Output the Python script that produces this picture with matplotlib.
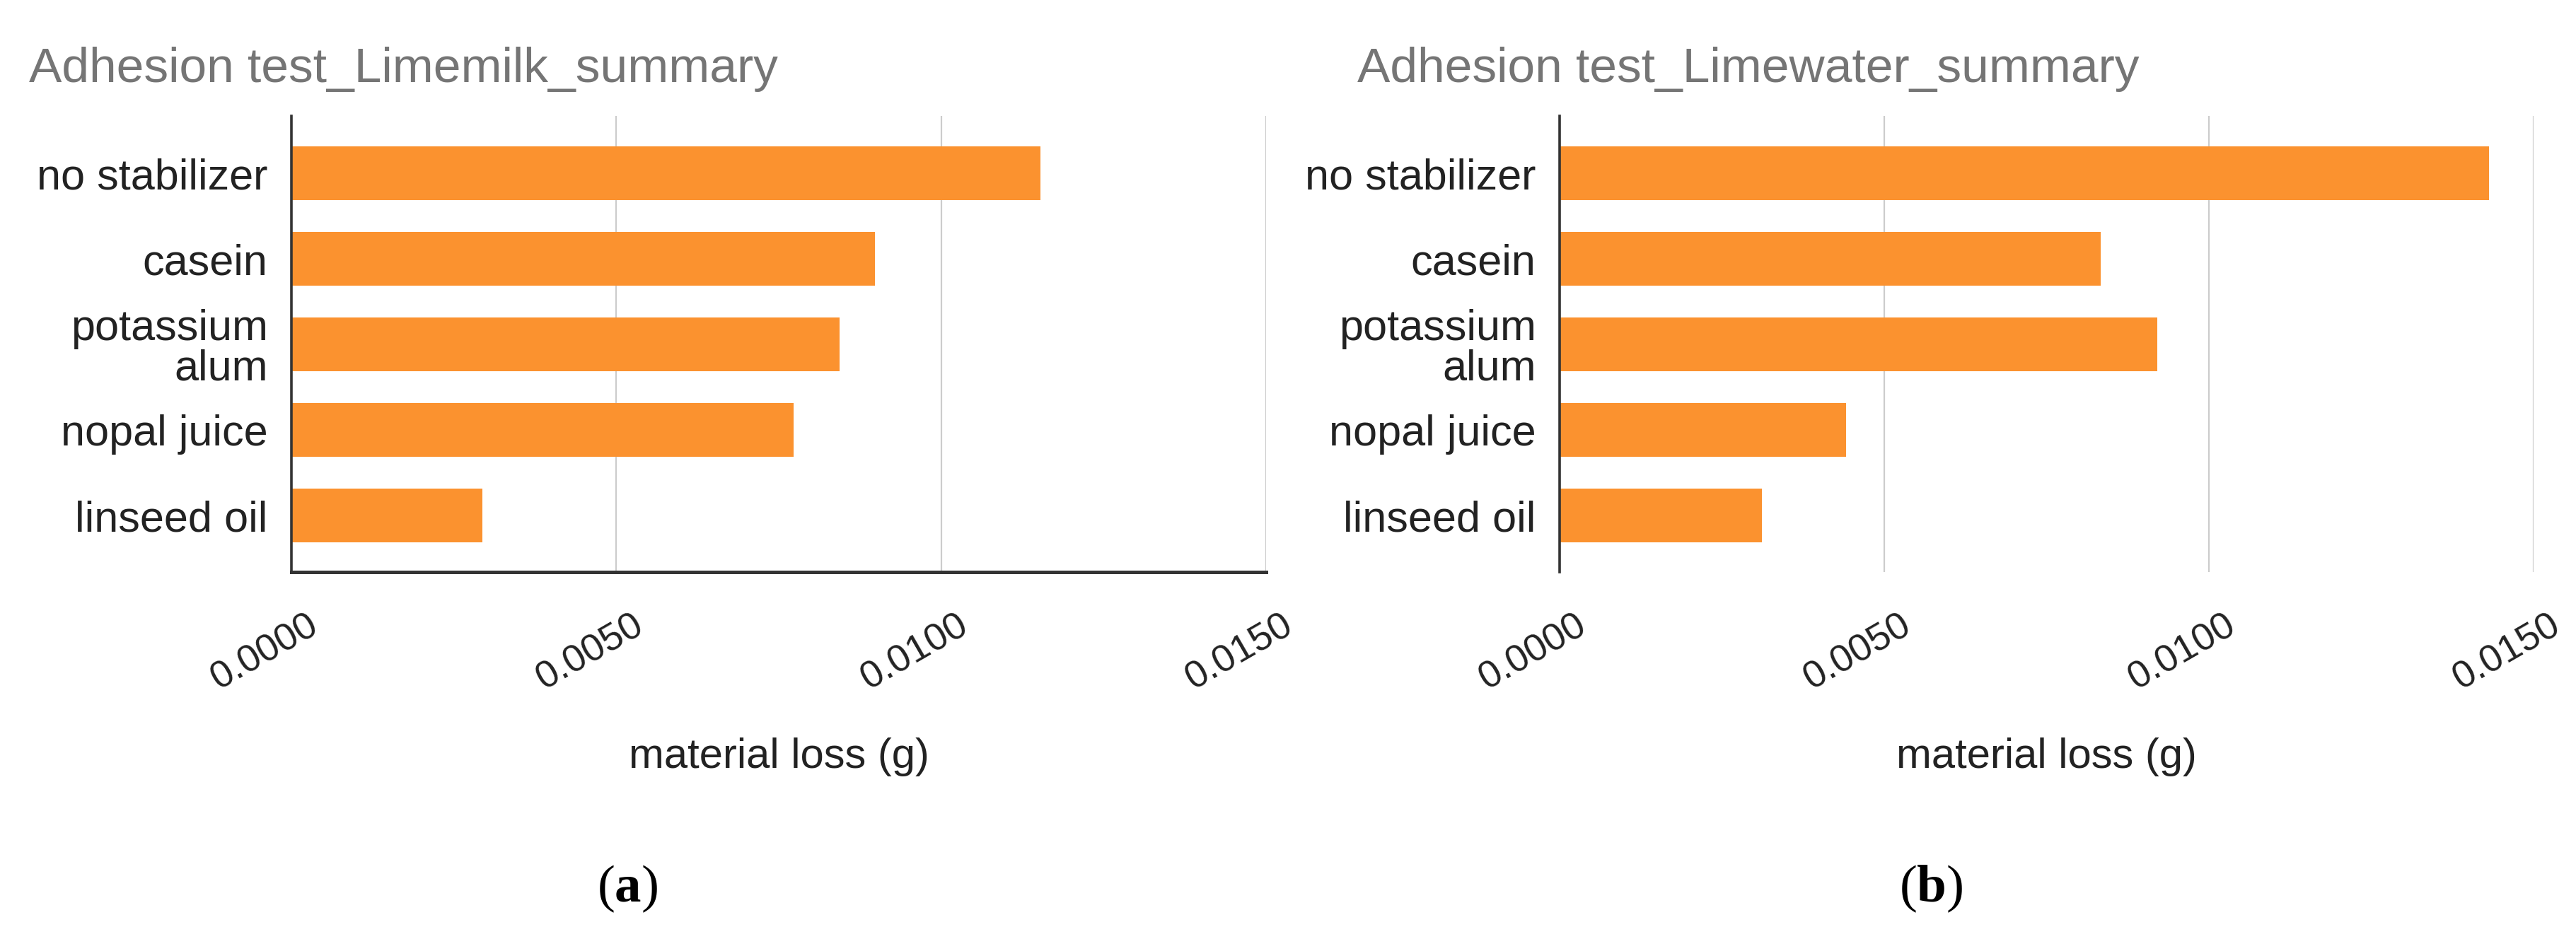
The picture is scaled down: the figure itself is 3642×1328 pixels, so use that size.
import matplotlib
matplotlib.use("Agg")
import matplotlib.pyplot as plt
import matplotlib.transforms as mtransforms
import numpy as np

plt.rcParams['font.family'] = ['Liberation Sans', 'DejaVu Sans']
plt.rcParams['mathtext.fontset'] = 'custom'
plt.rcParams['mathtext.rm'] = 'Liberation Serif'
plt.rcParams['mathtext.bf'] = 'Liberation Serif:bold'

categories = ["no stabilizer", "casein", "potassium\nalum", "nopal juice", "linseed oil"]
limemilk = [0.01153, 0.00898, 0.00844, 0.00773, 0.00294]
limewater = [0.01431, 0.00833, 0.00921, 0.00441, 0.00312]
xticks = [0.0, 0.005, 0.010, 0.015]
xtick_labels = ["0.0000", "0.0050", "0.0100", "0.0150"]
titles = ["Adhesion test_Limemilk_summary", "Adhesion test_Limewater_summary"]
panel_tags = ["a", "b"]

W, H = 3642, 1328
DPI = 100
BAR = '#FB922F'
GRID = '#cccccc'
DARK = '#222222'

fig = plt.figure(figsize=(W / DPI, H / DPI), dpi=DPI)

# pixel boxes of the two plot areas: (left, right, top, bottom)
boxes = [(412, 1790, 164, 809), (2205, 3582, 164, 809)]
title_x = [41, 1919]
tag_x = [887, 2730]

for i, vals in enumerate([limemilk, limewater]):
    l, r, t, b = boxes[i]
    ax = fig.add_axes([l / W, (H - b) / H, (r - l) / W, (b - t) / H])
    y = np.arange(len(categories))
    ax.barh(y, vals, height=0.63, color=BAR, zorder=3)
    ax.set_xlim(0, 0.015)
    ax.set_ylim(len(categories) - 0.34, -0.67)

    ax.set_yticks(y)
    ax.set_yticklabels(categories, fontsize=44, color=DARK, linespacing=1.0)
    ax.set_xticks(xticks)
    ax.set_xticklabels(xtick_labels, fontsize=39, color=DARK)
    ax.tick_params(axis='y', length=0, pad=24)
    ax.tick_params(axis='x', length=0, pad=36)
    shift = mtransforms.ScaledTranslation(22 / DPI, 0, fig.dpi_scale_trans)
    for lab in ax.get_xticklabels():
        lab.set_rotation(30)
        lab.set_ha('right')
        lab.set_va('top')
        lab.set_rotation_mode('anchor')
        lab.set_transform(lab.get_transform() + shift)

    ax.grid(axis='x', color=GRID, linewidth=1.6, zorder=0)
    for s in ['top', 'right']:
        ax.spines[s].set_visible(False)
    ax.spines['left'].set_color('#333333')
    ax.spines['left'].set_linewidth(2.6)
    ax.spines['left'].set_zorder(4)
    if i == 0:
        ax.spines['bottom'].set_color('#333333')
        ax.spines['bottom'].set_linewidth(3.6)
    else:
        ax.spines['bottom'].set_visible(False)

    ax.text(0.5, (H - 1071 - (H - b)) / (b - t), "material loss (g)",
            transform=ax.transAxes, ha='center', va='center',
            fontsize=43, color=DARK)

    fig.text(title_x[i] / W, (H - 116) / H, titles[i], fontsize=50,
             color='#757575', ha='left', va='baseline')
    fig.text(tag_x[i] / W, (H - 1275) / H, "($\\mathbf{" + panel_tags[i] + "}$)",
             fontsize=54, color='black', ha='center', va='baseline',
             family='Liberation Serif')

fig.savefig("out.png", dpi=DPI)
